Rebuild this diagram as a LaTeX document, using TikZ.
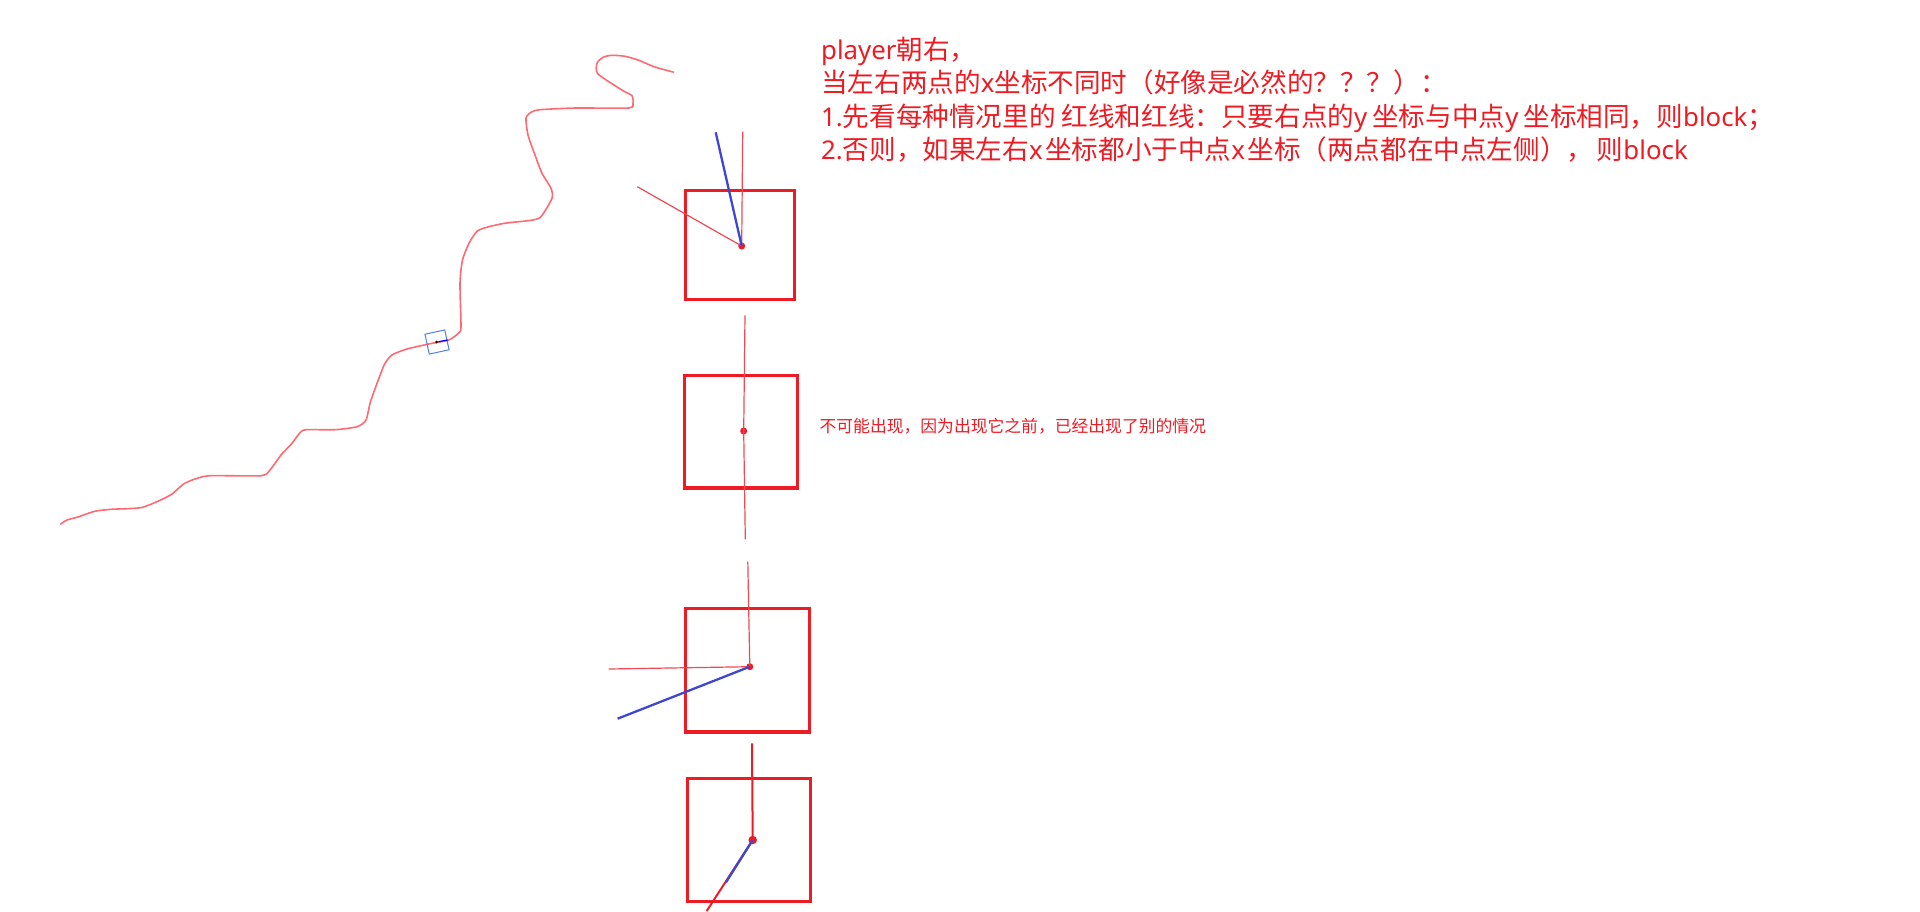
\documentclass[tikz,border=0pt]{standalone}
\usepackage{fontspec}
\setmainfont{Noto Sans CJK SC}
\newfontfamily\latn[Scale=0.97]{Noto Sans}
\definecolor{boxred}{HTML}{ED1C24}
\definecolor{lineblue}{HTML}{3F48CC}
\definecolor{trailred}{HTML}{FF6A72}
\definecolor{tileblue}{HTML}{4F7FEB}
\begin{document}
\begin{tikzpicture}[
	x = 1pt, y = -1pt,
	box/.style = {draw = boxred, line width = 3.1pt, inner sep = 0pt, outer sep = 0pt},
	mid/.style = {circle, fill = boxred, inner sep = 0pt, outer sep = 0pt, minimum size = 7pt},
	ray/.style = {draw = boxred!80, line width = 1.2pt},
	heavy/.style = {draw = boxred, line width = 2pt},
	look/.style = {draw = lineblue, line width = 2.3pt},
	trail/.style = {draw = trailred, line width = 1.6pt},
	tile/.style = {draw = tileblue, line width = 1pt, inner sep = 0pt, minimum size = 20.3pt, rotate = 12.3},
	note/.style = {text = boxred, inner sep = 0pt, align = left}
	]
	\useasboundingbox (0,0) rectangle (1920,911);

	% the path on the left
	\draw[trail] plot[smooth, tension = 0.4] coordinates {
		(60.3,524.3) (67,520) (78,517) (94.6,511.3) (111.6,509.3) (140.6,507.7)
		(158.5,501) (172,494) (184,483.7) (196,478.7) (210,475.7) (261,475.7)
		(270,470) (281,455) (292,443.3) (300,432.7) (306,429.7) (335,429.7)
		(357,426.7) (366,420) (370.5,401.7) (379.5,376.7) (385,363.3) (392,355)
		(406,349.3) (428.6,344) (448.7,340) (459,332.7) (461,326.7) (460,283.3)
		(462.5,260) (469,243.3) (477,231.3) (486.6,227.3) (504.5,223.3) (531,220.3)
		(541,216.7) (552,198.3) (551,188.3) (542,173.3) (535,155) (528,135)
		(526,118.3) (531,112.3) (540,109.7) (576,108) (628.6,108) (633,103.3)
		(632,95.7) (623,90.7) (598,74) (597,63.3) (603,57.3) (612,55.3)
		(625,56.3) (638,60) (654,66.7) (674,72.3)
	};
	\node[tile] (tile) at (437,342) {};
	\node[circle, fill = black, inner sep = 0pt, minimum size = 3pt] (tilemid) at (436.7,342) {};
	\coordinate (tileend) at (447.7,340);
	\draw[draw = blue, line width = 1.2pt] (tilemid) -- (tileend);

	% first case
	\node[box, minimum width = 108.8pt, minimum height = 109pt] (boxA) at (740,244.9) {};
	\node[mid] (midA) at (741.7,246) {};
	\coordinate (topA) at (742.7,131.7);
	\coordinate (leftA) at (637.3,186.7);
	\coordinate (blueA) at (715.7,132.3);
	\draw[ray] (midA.center) -- (topA);
	\draw[ray] (midA.center) -- (leftA);
	\draw[look] (midA.center) -- (blueA);

	% second case
	\node[box, minimum width = 113.4pt, minimum height = 112.9pt] (boxB) at (740.75,431.5) {};
	\node[mid] (midB) at (743.7,431) {};
	\coordinate (topB) at (745,315.3);
	\coordinate (downB) at (745.3,539.3);
	\draw[ray] (midB.center) -- (topB);
	\draw[ray] (midB.center) -- (downB);
	\node[note, anchor = west, font = \fontsize{16.8}{20}\selectfont] (noteB) at (819.4,426) {不可能出现，因为出现它之前，已经出现了别的情况};

	% third case
	\node[box, minimum width = 123.4pt, minimum height = 123.3pt] (boxC) at (747.5,670.3) {};
	\node[mid] (midC) at (749.8,666.7) {};
	\coordinate (topC) at (747.8,561.7);
	\coordinate (leftC) at (608.6,669);
	\coordinate (blueC) at (617.6,718.7);
	\draw[ray] (midC.center) -- (topC);
	\draw[ray] (midC.center) -- (leftC);
	\draw[look] (midC.center) -- (blueC);

	% fourth case
	\node[box, minimum width = 123pt, minimum height = 122.7pt] (boxD) at (748.8,840) {};
	\node[mid, minimum size = 8.5pt] (midD) at (752.7,840) {};
	\coordinate (topD) at (752,743.3);
	\coordinate (leftD) at (706.7,911);
	\coordinate (blueD) at (726,882.3);
	\draw[heavy] (midD.center) -- (topD);
	\draw[heavy] (midD.center) -- (leftD);
	\draw[look] (midD.center) -- (blueD);

	% the rule
	\node[note, anchor = north west, font = \fontsize{26.6}{33.6}\selectfont] (rule) at (821,36.5) {
		{\latn player}朝右，\\
		当左右两点的{\latn x}坐标不同时（好像是必然的？？？）：\\
		{\latn 1.}先看每种情况里的 红线和红线：只要右点的{\latn y}\hspace{5pt}坐标与中点{\latn y}\hspace{5pt}坐标相同，则{\latn block}；\\
		{\latn 2.}否则，如果左右{\latn x}\hspace{2.5pt}坐标都小于中点{\latn x}\hspace{2.5pt}坐标（两点都在中点左侧），\hspace{3.5pt}则{\latn block}
	};
\end{tikzpicture}
\end{document}
